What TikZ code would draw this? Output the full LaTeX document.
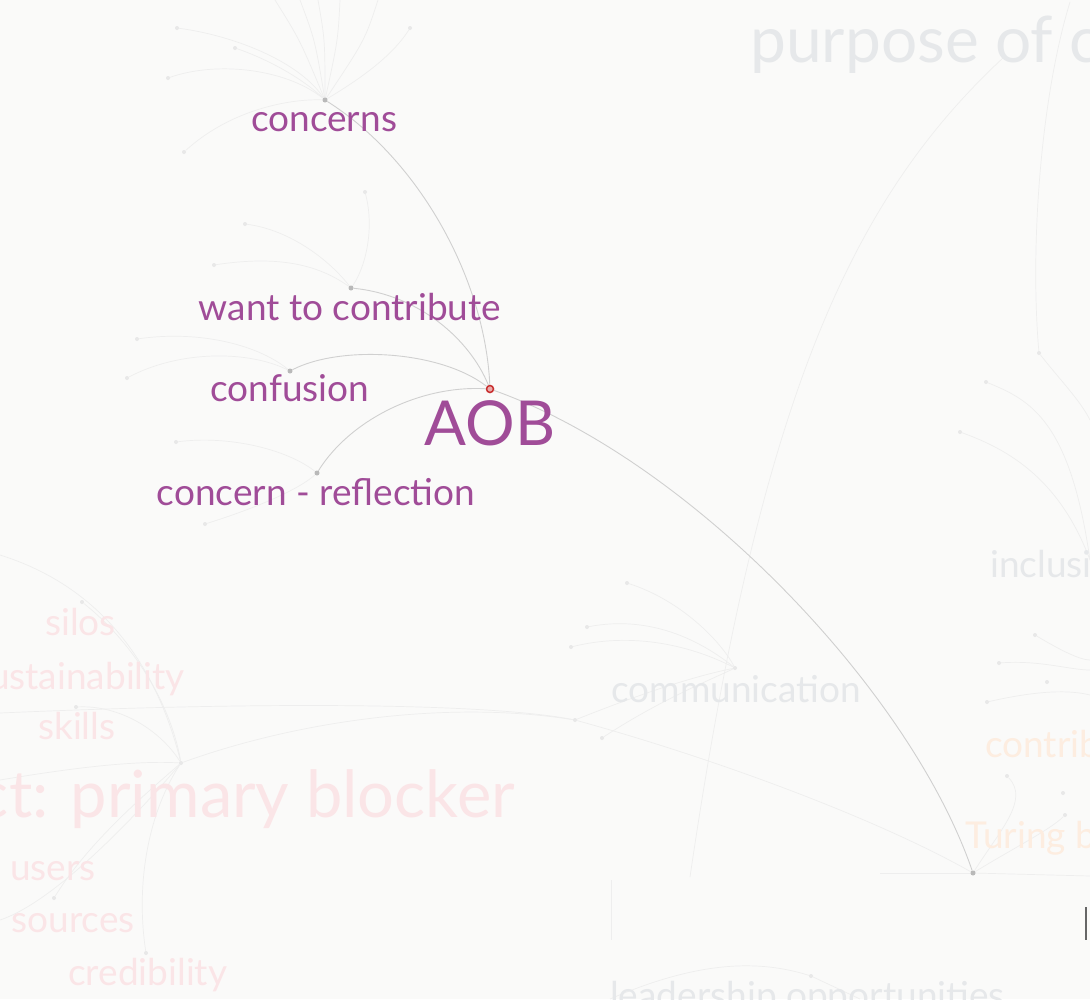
\documentclass[tikz,border=0pt]{standalone}
\usepackage{fontspec}
\setmainfont{Lato}
\definecolor{bgc}{RGB}{250,250,249}
\definecolor{purp}{RGB}{160,76,152}
\definecolor{mainedge}{RGB}{208,208,208}
\definecolor{maindot}{RGB}{185,185,185}
\definecolor{aobdot}{RGB}{200,45,45}
\definecolor{faintedge}{RGB}{238,238,238}
\definecolor{faintdot}{RGB}{232,232,232}
\definecolor{fgrey}{RGB}{230,232,234}
\definecolor{fpink}{RGB}{250,229,231}
\definecolor{forange}{RGB}{253,237,224}
\tikzset{
  mdot/.style={circle,fill=maindot,inner sep=0pt,minimum size=5pt},
  fdot/.style={circle,fill=faintdot,inner sep=0pt,minimum size=4pt},
  medge/.style={draw=mainedge,line width=0.9pt},
  fedge/.style={draw=faintedge,line width=0.7pt},
  plabel/.style={text=purp,anchor=base,inner sep=0pt,font=\fontsize{37}{37}\selectfont},
  flabel/.style={anchor=base west,inner sep=0pt,font=\fontsize{37}{37}\selectfont},
}
\begin{document}
\begin{tikzpicture}[x=1pt,y=-1pt]
\useasboundingbox (0,0) rectangle (1090,999);
\clip (0,0) rectangle (1090,999);
\fill[bgc] (0,0) rectangle (1090,999);

% ---------- faint background nodes ----------
\node[fdot] (f1) at (177,28) {};
\node[fdot] (f2) at (235,48) {};
\node[fdot] (f3) at (168,78) {};
\node[fdot] (f4) at (410,28) {};
\node[fdot] (f5) at (184,152) {};
\node[fdot] (f6) at (245,224) {};
\node[fdot] (f7) at (214,265) {};
\node[fdot] (f8) at (365,192) {};
\node[fdot] (f9) at (137,339) {};
\node[fdot] (f10) at (127,378) {};
\node[fdot] (f11) at (176,442) {};
\node[fdot] (f12) at (205,524) {};
\node[fdot] (pb) at (181,763) {};
\node[fdot] (silos) at (82,602) {};
\node[fdot] (skills) at (76,707) {};
\node[fdot] (users) at (54,898) {};
\node[fdot] (cred) at (146,953) {};
\node[fdot] (comm) at (735,668) {};
\node[fdot] (c1) at (627,583) {};
\node[fdot] (c2) at (587,627) {};
\node[fdot] (c3) at (571,647) {};
\node[fdot] (c4) at (575,720) {};
\node[fdot] (c5) at (602,738) {};
\node[fdot] (r1) at (1039,353) {};
\node[fdot] (r2) at (986,382) {};
\node[fdot] (r3) at (960,432) {};
\node[fdot] (r4) at (1035,635) {};
\node[fdot] (r5) at (999,663) {};
\node[fdot] (r6) at (1047,682) {};
\node[fdot] (r7) at (987,702) {};
\node[fdot] (r8) at (1007,776) {};
\node[fdot] (r9) at (1063,793) {};
\node[fdot] (r10) at (1065,815) {};
\node[fdot] (b1) at (811,976) {};
\coordinate (t1) at (275,0);
\coordinate (t2) at (300,0);
\coordinate (t3) at (318,0);
\coordinate (t4) at (340,0);
\coordinate (t5) at (378,0);
\coordinate (pp) at (1070,2);
\coordinate (pp2) at (1004,57);
\coordinate (lft) at (0,713);
\coordinate (lft2) at (0,555);
\coordinate (lft3) at (0,780);
\coordinate (lft4) at (0,920);
\coordinate (rt1) at (1090,876);
\coordinate (rt2) at (1090,420);
\coordinate (rt3) at (1090,560);
\coordinate (bt1) at (690,877);
\coordinate (bt2) at (610,999);
\coordinate (bt3) at (860,999);

% ---------- faint edges ----------
\begin{scope}[fedge]
\draw (f1) .. controls (230,35) and (300,60) .. (325,100);
\draw (f2) .. controls (270,60) and (305,80) .. (325,100);
\draw (f3) .. controls (220,60) and (290,70) .. (325,100);
\draw (f4) .. controls (390,60) and (350,85) .. (325,100);
\draw (t1) .. controls (300,40) .. (325,100);
\draw (t2) .. controls (315,40) .. (325,100);
\draw (t3) .. controls (325,40) .. (325,100);
\draw (t4) .. controls (338,40) .. (325,100);
\draw (t5) .. controls (365,40) .. (325,100);
\draw (f5) .. controls (230,110) and (290,98) .. (325,100);
\draw (f6) .. controls (290,230) and (330,260) .. (351,288);
\draw (f7) .. controls (280,255) and (320,265) .. (351,288);
\draw (f8) .. controls (375,230) and (365,270) .. (351,288);
\draw (f9) .. controls (200,330) and (260,345) .. (290,371);
\draw (f10) .. controls (180,350) and (250,350) .. (290,371);
\draw (f11) .. controls (230,435) and (290,450) .. (317,473);
\draw (f12) .. controls (250,510) and (300,490) .. (317,473);
\draw (silos) .. controls (130,640) and (170,700) .. (pb);
\draw (skills) .. controls (120,705) and (160,730) .. (pb);
\draw (lft2) .. controls (80,580) and (150,640) .. (pb);
\draw (lft3) .. controls (60,770) and (130,760) .. (pb);
\draw (users) .. controls (90,840) and (150,790) .. (pb);
\draw (cred) .. controls (135,880) and (150,810) .. (pb);
\draw (lft4) .. controls (60,900) and (150,800) .. (pb);
\draw (pb) .. controls (300,720) and (450,700) .. (c4);
\draw (lft) .. controls (300,700) and (500,705) .. (c4);
\draw (c4) .. controls (720,760) and (880,820) .. (973,873);
\draw (c1) .. controls (680,600) and (720,640) .. (comm);
\draw (c2) .. controls (650,615) and (700,640) .. (comm);
\draw (c3) .. controls (640,630) and (700,650) .. (comm);
\draw (c5) .. controls (660,700) and (710,680) .. (comm);
\draw (c4) .. controls (650,690) and (700,675) .. (comm);
\draw (pp2) .. controls (850,200) and (760,400) .. (bt1);
\draw (pp) .. controls (1040,100) and (1030,250) .. (r1);
\draw (r1) .. controls (1060,380) and (1080,400) .. (rt2);
\draw (r2) .. controls (1030,400) and (1070,420) .. (rt3);
\draw (r3) .. controls (1010,450) and (1060,480) .. (rt3);
\draw (973,873) -- (rt1);
\draw (973,873) .. controls (1000,830) and (1030,800) .. (r8);
\draw (973,873) .. controls (1010,850) and (1050,830) .. (r10);
\draw (880,873) -- (973,873);
\draw (r4) .. controls (1060,650) and (1080,660) .. (1090,660);
\draw (r5) .. controls (1040,660) and (1070,670) .. (1090,670);
\draw (r7) .. controls (1040,690) and (1070,690) .. (1090,695);
\draw (b1) .. controls (760,960) and (700,960) .. (bt2);
\draw (b1) -- (bt3);
\draw (611,880) -- (611,940);
\end{scope}

% ---------- faint labels ----------
\node[flabel,text=fgrey,font=\fontsize{64}{64}\selectfont] (purp) at (750,62) {purpose of c};
\node[flabel,text=fgrey] (incl) at (990,577) {inclusion};
\node[flabel,text=fgrey] (commL) at (611,702) {communication};
\node[flabel,text=forange] (contrL) at (985,757) {contribution};
\node[flabel,text=forange] (turL) at (965,848) {Turing b};
\node[flabel,text=fpink] (silosL) at (45,635) {silos};
\node[flabel,text=fpink,anchor=base east] (sustL) at (185,689) {sustainability};
\node[flabel,text=fpink] (skillsL) at (38,739) {skills};
\node[flabel,text=fpink,anchor=base east,font=\fontsize{65}{65}\selectfont] (pbL) at (515,817) {ct: primary blocker};
\node[flabel,text=fpink] (usersL) at (10,880) {users};
\node[flabel,text=fpink,anchor=base east] (srcL) at (135,932) {sources};
\node[flabel,text=fpink] (credL) at (68,985) {credibility};
\node[flabel,text=fgrey] (leadL) at (610,1008) {leadership opportunities};
\draw[draw=black!60,line width=1.5pt] (1086,907) -- (1086,940);

% ---------- main nodes ----------
\node[mdot] (concerns) at (325,100) {};
\node[mdot] (want) at (351,288) {};
\node[mdot] (confusion) at (290,371) {};
\node[mdot] (reflection) at (317,473) {};
\node[mdot] (far) at (973,873) {};
\node[circle,fill=aobdot!40,draw=aobdot,line width=1.5pt,inner sep=0pt,minimum size=7pt] (aob) at (490,389) {};

% ---------- main edges ----------
\draw[medge] (concerns) .. controls (420,160) and (485,280) .. (aob);
\draw[medge] (want) .. controls (420,295) and (470,340) .. (aob);
\draw[medge] (confusion) .. controls (340,345) and (440,350) .. (aob);
\draw[medge] (reflection) .. controls (350,420) and (420,385) .. (aob);
\draw[medge] (aob) .. controls (690,460) and (910,690) .. (far);

% ---------- main labels ----------
\node[plabel] (concernsL) at (324,131) {concerns};
\node[plabel] (wantL) at (350,320) {want to contribute};
\node[plabel] (confusionL) at (290,401) {confusion};
\node[plabel] (reflectionL) at (316,505) {concern - reflection};
\node[plabel,font=\fontsize{62}{62}\selectfont] (aobL) at (490,445) {AOB};
\end{tikzpicture}
\end{document}
